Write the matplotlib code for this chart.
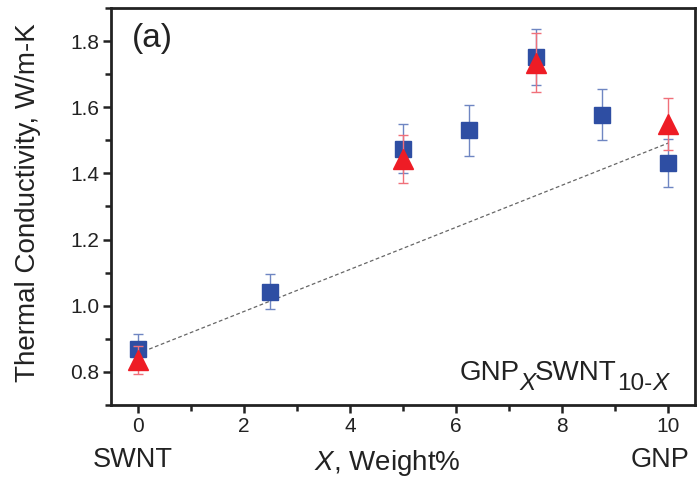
import matplotlib
matplotlib.use("Agg")
import matplotlib.pyplot as plt
from matplotlib.ticker import MultipleLocator

plt.rcParams['font.family'] = ['Liberation Sans', 'DejaVu Sans']
plt.rcParams['mathtext.fontset'] = 'custom'
plt.rcParams['mathtext.rm'] = 'Liberation Sans'
plt.rcParams['mathtext.it'] = 'Liberation Sans:italic'

sq_x = [0, 2.5, 5, 6.25, 7.5, 8.75, 10]
sq_y = [0.869, 1.043, 1.475, 1.530, 1.753, 1.578, 1.432]
sq_err = [0.045, 0.053, 0.075, 0.077, 0.085, 0.078, 0.072]

tri_x = [0, 5, 7.5, 10]
tri_y = [0.835, 1.443, 1.735, 1.550]
tri_err = [0.042, 0.072, 0.088, 0.078]

line_x = [0, 10]
line_y = [0.855, 1.492]

TXT = '#222222'
W, H = 699, 484

fig = plt.figure(figsize=(6.99, 4.84), dpi=100)
ax = fig.add_axes([111/W, 1-405/H, (695-111)/W, (405-8)/H])

ax.plot(line_x, line_y, ls=(0, (3, 2)), color='#666666', lw=0.9, zorder=1)

ax.errorbar(sq_x, sq_y, yerr=sq_err, fmt='s', color='#2E4EA3', ms=12,
            ecolor='#6f86c2', elinewidth=1.0, capsize=3.5, capthick=1.0, zorder=2)
ax.errorbar(tri_x, tri_y, yerr=tri_err, fmt='^', color='#EE1C25', ms=15,
            ecolor='#f0707a', elinewidth=1.0, capsize=3.5, capthick=1.0, zorder=3)

ax.set_xlim(-0.5, 10.5)
ax.set_ylim(0.7, 1.9)
ax.set_xticks([0, 2, 4, 6, 8, 10])
ax.set_yticks([0.8, 1.0, 1.2, 1.4, 1.6, 1.8])
ax.xaxis.set_minor_locator(MultipleLocator(1))
ax.yaxis.set_minor_locator(MultipleLocator(0.1))
ax.tick_params(which='both', direction='out', top=False, right=False, width=1.8, color=TXT)
ax.tick_params(which='major', length=6, labelsize=15, labelcolor=TXT, pad=2.5)
ax.tick_params(which='minor', length=4)
for s in ax.spines.values():
    s.set_linewidth(2.0)
    s.set_color(TXT)
ax.set_yticklabels(['0.8', '1.0', '1.2', '1.4', '1.6', '1.8'])

fig.text(28/W, 1-203/H, 'Thermal Conductivity, W/m-K', rotation=90, fontsize=20,
         color=TXT, ha='center', va='center')
fig.text(387/W, 1-470/H, r'$\mathit{X}$, Weight%', fontsize=20, color=TXT,
         ha='center', va='baseline')
fig.text(133/W, 1-467/H, 'SWNT', fontsize=19.5, color=TXT, ha='center', va='baseline')
fig.text(660/W, 1-467/H, 'GNP', fontsize=19.5, color=TXT, ha='center', va='baseline')

fig.text(132/W, 1-38/H, '(a)', fontsize=24, color=TXT, ha='left', va='center')

# composition label built from pieces (large subscripts)
renderer = fig.canvas.get_renderer()
pieces = [('GNP', 20, 'normal', 380, 0),
          ('X', 17.5, 'italic', 390, -1),
          ('SWNT', 20, 'normal', 380, 0),
          ('10-', 17.5, 'normal', 390, 0),
          ('X', 17.5, 'italic', 390, 0)]
xpos = 460
for s, fs, style, base, gap in pieces:
    xpos += gap
    t = fig.text(xpos/W, 1-base/H, s, fontsize=fs, style=style, color=TXT,
                 ha='left', va='baseline')
    bb = t.get_window_extent(renderer=renderer)
    xpos = bb.x1

fig.savefig('out.png', dpi=100)
